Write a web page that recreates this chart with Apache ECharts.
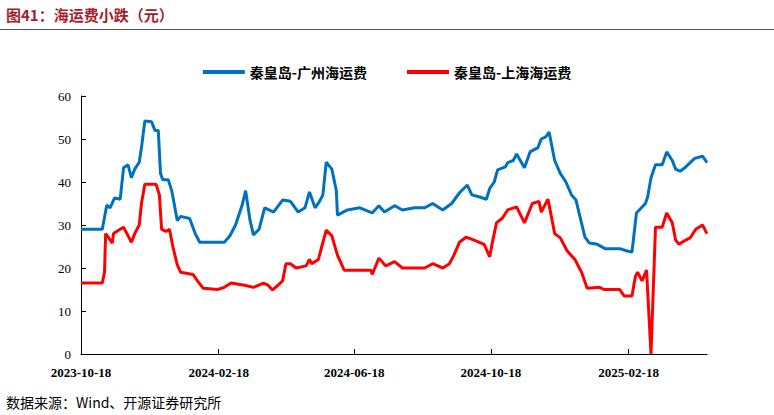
<!DOCTYPE html>
<html><head><meta charset="utf-8">
<script src="https://cdn.jsdelivr.net/npm/echarts@6/dist/echarts.min.js"></script>
<style>
html,body{margin:0;padding:0;background:#fff;}
#title{position:absolute;left:6px;top:4px;font:bold 15px "Noto Sans CJK SC";color:#a61c2e;}
#rule{position:absolute;left:0;top:29px;width:774px;height:1px;background:#555;}
#src{position:absolute;left:6px;top:392px;font:14px "Noto Sans CJK SC";color:#000;}
#chart{position:absolute;left:0;top:0;width:774px;height:415px;}
</style></head>
<body>
<div id="chart"></div>
<div id="title">图41：海运费小跌（元）</div>
<div id="rule"></div>
<div id="src">数据来源：Wind、开源证券研究所</div>
<script>
// [days since 2023-10-18, value]
var guangzhou = [[0,29],[19,29],[23,34.6],[26,34],[30,36.3],[35,36],[38,43.3],[42,44],[45,41],[48,43],[52,44.6],[54,48],[57,54.2],[63,54],[66,52],[69,52],[71,42],[73,40.5],[78,40.5],[81,38],[86,31],[89,32],[97,31.5],[102,28],[106,26],[128,26],[133,27.5],[138,30],[144,34.7],[147,38],[151,31],[154,27.7],[159,29],[164,34],[172,33],[180,35.8],[187,35.5],[194,33],[200,34],[204,37.7],[209,34],[213,35.5],[216,37],[219,44.6],[224,43],[228,38],[229,32.3],[238,33.5],[249,34],[260,32.8],[266,34.5],[271,33],[280,34.5],[287,33.5],[298,34],[307,34],[314,35],[323,33.5],[331,35],[338,37.5],[345,39.3],[349,37],[356,36.5],[362,36],[365,38.5],[369,40],[372,42.8],[379,43.5],[381,44.5],[386,45],[389,46.5],[396,43.3],[401,47],[408,48],[411,50],[415,50.5],[418,51.6],[423,45],[428,42],[433,40],[438,37],[442,35.8],[450,27.2],[454,25.8],[461,25.5],[468,24.5],[481,24.5],[487,24],[492,23.7],[496,32.8],[504,35],[506,36.5],[509,41],[513,44],[519,44],[523,47],[528,45],[531,43],[535,42.5],[540,43.5],[548,45.5],[555,46],[559,44.5]];
var shanghai = [[0,16.5],[19,16.5],[21,19],[22,28],[28,25.8],[29,28],[35,29],[38,29.5],[43,27],[45,26],[48,28],[52,30],[54,35],[57,39.5],[67,39.5],[70,37],[72,29],[76,28.5],[79,29],[82,25],[86,20.7],[89,19],[100,18.5],[104,17],[109,15.3],[122,15],[128,15.5],[134,16.5],[146,16],[154,15.5],[163,16.5],[167,16],[171,14.9],[176,16],[180,17],[183,21],[187,21],[192,20],[201,20.5],[204,22],[206,21],[212,22],[215,25],[219,28.8],[224,27.5],[229,23],[235,19.5],[241,19.5],[259,19.5],[260,18.5],[266,22.3],[272,20.5],[280,21.5],[287,20],[298,20],[307,20],[314,21],[323,20],[329,21],[333,23],[338,26],[344,27.2],[351,26.5],[360,25.5],[365,22.6],[367,25.5],[371,30.5],[376,31.5],[381,33.5],[389,34.2],[396,30.5],[403,35],[409,35.5],[411,33],[417,36],[423,28],[428,27],[434,24],[441,22],[447,19],[452,15.3],[463,15.5],[467,15],[481,15],[485,13.5],[492,13.5],[495,18],[497,19],[501,17],[505,19.5],[509,0],[513,29.5],[519,29.5],[523,32.8],[528,30.5],[531,26.5],[534,25.5],[540,26.5],[544,27],[549,29],[555,30],[559,28]];
var tickDates = ['2023-10-18','2024-02-18','2024-06-18','2024-10-18','2025-02-18'];
var seriesNames = ['秦皇岛-广州海运费', '秦皇岛-上海海运费'];

var DAY = 86400000;
var start = Date.UTC(2023, 9, 18);
function toTime(arr) { return arr.map(function(p) { return [start + p[0] * DAY, p[1]]; }); }
var ticks = tickDates.map(function(s) { var a = s.split('-'); return Date.UTC(+a[0], +a[1] - 1, +a[2]); });
function pad(n) { return n < 10 ? '0' + n : '' + n; }

var chart = echarts.init(document.getElementById('chart'), null, { renderer: 'svg' });
chart.setOption({
    animation: false,
    legend: {
        top: 60, left: 'center', itemWidth: 42, itemHeight: 4, itemGap: 40,
        icon: 'rect',
        textStyle: { fontFamily: 'Noto Sans CJK SC', fontWeight: 'bold', fontSize: 14, color: '#000' },
        data: seriesNames
    },
    grid: { left: 81, right: 67, top: 96, bottom: 61 },
    xAxis: {
        type: 'value',
        min: start, max: start + 559 * DAY,
        axisLine: { lineStyle: { color: '#000' } },
        axisTick: { show: true, customValues: ticks, length: 5, inside: true, lineStyle: { color: '#000' } },
        axisLabel: {
            customValues: ticks, color: '#000', fontSize: 13, fontWeight: 'bold', margin: 12,
            fontFamily: 'Liberation Serif',
            formatter: function(v) { var d = new Date(v); return d.getUTCFullYear() + '-' + pad(d.getUTCMonth() + 1) + '-' + pad(d.getUTCDate()); }
        },
        splitLine: { show: false }
    },
    yAxis: {
        type: 'value', min: 0, max: 60, interval: 10,
        axisLine: { show: true, lineStyle: { color: '#000' } },
        axisTick: { show: true, inside: true, length: 5, lineStyle: { color: '#000' } },
        axisLabel: { color: '#000', fontSize: 13, fontFamily: 'Liberation Serif', margin: 10 },
        splitLine: { show: false }
    },
    series: [
        { name: seriesNames[0], type: 'line', data: toTime(guangzhou), symbol: 'none',
          lineStyle: { color: '#0070c0', width: 3 }, itemStyle: { color: '#0070c0' } },
        { name: seriesNames[1], type: 'line', data: toTime(shanghai), symbol: 'none',
          lineStyle: { color: '#ff0000', width: 3 }, itemStyle: { color: '#ff0000' } }
    ]
});
</script>
</body></html>
